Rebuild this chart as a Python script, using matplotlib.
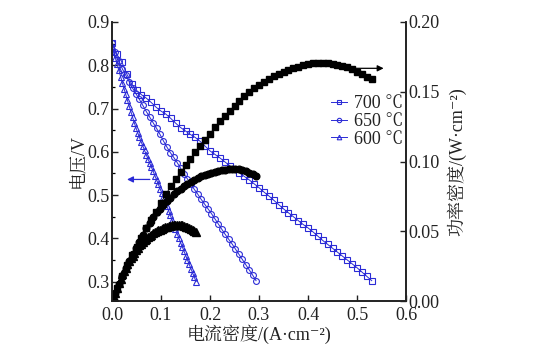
import matplotlib
matplotlib.use("Agg")
import matplotlib.pyplot as plt
from matplotlib.ticker import MultipleLocator

plt.rcParams['font.family'] = ['Liberation Serif', 'Noto Serif CJK SC', 'DejaVu Sans']
plt.rcParams['font.size'] = 12

# ---------------- data ----------------
i700 = [0.00, 0.01, 0.02, 0.03, 0.04, 0.05, 0.06, 0.07, 0.08, 0.09,
        0.10, 0.11, 0.12, 0.13, 0.14, 0.15, 0.16, 0.17, 0.18, 0.19,
        0.20, 0.21, 0.22, 0.23, 0.24, 0.25, 0.26, 0.27, 0.28, 0.29,
        0.30, 0.31, 0.32, 0.33, 0.34, 0.35, 0.36, 0.37, 0.38, 0.39,
        0.40, 0.41, 0.42, 0.43, 0.44, 0.45, 0.46, 0.47, 0.48, 0.49,
        0.50, 0.51, 0.52, 0.53]
v700 = [0.852, 0.825, 0.808, 0.780, 0.757, 0.742, 0.732, 0.724, 0.714, 0.703,
        0.694, 0.687, 0.677, 0.666, 0.656, 0.648, 0.640, 0.633, 0.624, 0.613,
        0.602, 0.594, 0.586, 0.577, 0.568, 0.560, 0.551, 0.543, 0.535, 0.526,
        0.517, 0.507, 0.498, 0.488, 0.478, 0.468, 0.459, 0.450, 0.441, 0.432,
        0.424, 0.415, 0.405, 0.395, 0.386, 0.377, 0.368, 0.359, 0.350, 0.341,
        0.332, 0.322, 0.312, 0.302]
p700 = [0.001, 0.009, 0.018, 0.026, 0.033, 0.039, 0.045, 0.052, 0.058, 0.064,
        0.0705, 0.0765, 0.0822, 0.0873, 0.0922, 0.0972, 0.1020, 0.1065, 0.1110, 0.1155,
        0.1200, 0.1245, 0.1287, 0.1327, 0.1363, 0.1400, 0.1433, 0.1466, 0.1498, 0.1525,
        0.1551, 0.1572, 0.1594, 0.1612, 0.1628, 0.1642, 0.1656, 0.1668, 0.1680, 0.1690,
        0.1698, 0.1703, 0.1705, 0.1706, 0.1703, 0.1698, 0.1690, 0.1683, 0.1674, 0.1660,
        0.1645, 0.1628, 0.1608, 0.1590]

i650 = [0.000, 0.007, 0.014, 0.021, 0.028, 0.035, 0.042, 0.049, 0.056, 0.063,
        0.070, 0.077, 0.084, 0.091, 0.098, 0.105, 0.112, 0.119, 0.126, 0.133,
        0.140, 0.147, 0.154, 0.161, 0.168, 0.175, 0.182, 0.189, 0.196, 0.203,
        0.210, 0.217, 0.224, 0.231, 0.238, 0.245, 0.252, 0.259, 0.266, 0.273,
        0.280, 0.287, 0.294]
v650 = [0.852, 0.830, 0.810, 0.792, 0.777, 0.762, 0.747, 0.734, 0.721, 0.707,
        0.693, 0.680, 0.667, 0.654, 0.640, 0.625, 0.611, 0.598, 0.587, 0.575,
        0.562, 0.549, 0.537, 0.525, 0.513, 0.502, 0.490, 0.479, 0.468, 0.457,
        0.445, 0.433, 0.421, 0.409, 0.398, 0.387, 0.375, 0.363, 0.351, 0.339,
        0.327, 0.315, 0.302]
p650 = [0.001, 0.006, 0.012, 0.018, 0.024, 0.029, 0.034, 0.038, 0.042, 0.047,
        0.052, 0.056, 0.060, 0.0635, 0.0663, 0.0690, 0.0715, 0.0740, 0.0765, 0.0785,
        0.0805, 0.0823, 0.0840, 0.0855, 0.0870, 0.0882, 0.0893, 0.0903, 0.0912, 0.0920,
        0.0927, 0.0933, 0.0938, 0.0942, 0.0945, 0.0947, 0.0946, 0.0943, 0.0938, 0.0930,
        0.0920, 0.0908, 0.0893]

i600 = [0.0000, 0.0035, 0.0070, 0.0105, 0.0140, 0.0175, 0.0210, 0.0245, 0.0280, 0.0315,
        0.0350, 0.0385, 0.0420, 0.0455, 0.0490, 0.0525, 0.0560, 0.0595, 0.0630, 0.0665,
        0.0700, 0.0735, 0.0770, 0.0805, 0.0840, 0.0875, 0.0910, 0.0945, 0.0980, 0.1015,
        0.1050, 0.1085, 0.1120, 0.1155, 0.1190, 0.1225, 0.1260, 0.1295, 0.1330, 0.1365,
        0.1400, 0.1435, 0.1470, 0.1505, 0.1540, 0.1575, 0.1610, 0.1645, 0.1680, 0.1715]
v600 = [0.845, 0.830, 0.816, 0.802, 0.788, 0.774, 0.760, 0.746, 0.733, 0.719,
        0.706, 0.693, 0.680, 0.667, 0.655, 0.644, 0.633, 0.623, 0.613, 0.603,
        0.593, 0.583, 0.574, 0.564, 0.555, 0.545, 0.535, 0.525, 0.515, 0.505,
        0.495, 0.485, 0.474, 0.464, 0.453, 0.443, 0.432, 0.421, 0.411, 0.400,
        0.390, 0.380, 0.370, 0.360, 0.350, 0.340, 0.330, 0.320, 0.310, 0.300]
p600 = [0.001, 0.003, 0.006, 0.0095, 0.013, 0.016, 0.019, 0.0215, 0.024, 0.0262,
        0.0285, 0.0305, 0.0325, 0.0345, 0.0365, 0.0382, 0.0398, 0.0412, 0.0425, 0.0437,
        0.0448, 0.0458, 0.0467, 0.0476, 0.0484, 0.0492, 0.0499, 0.0506, 0.0512, 0.0518,
        0.0524, 0.0529, 0.0534, 0.0538, 0.0541, 0.0544, 0.0546, 0.0547, 0.0548, 0.0547,
        0.0545, 0.0542, 0.0538, 0.0534, 0.0530, 0.0524, 0.0518, 0.0512, 0.0505, 0.0498]

labels = ['700 ℃', '650 ℃', '600 ℃']
xticks = [0.0, 0.1, 0.2, 0.3, 0.4, 0.5, 0.6]
yticks_left = [0.3, 0.4, 0.5, 0.6, 0.7, 0.8, 0.9]
yticks_right = [0.00, 0.05, 0.10, 0.15, 0.20]

# ---------------- figure ----------------
W, H = 534, 357
fig = plt.figure(figsize=(W / 100, H / 100), dpi=100)
ax = fig.add_axes([112 / W, 1 - 301 / H, (406 - 112) / W, (301 - 22) / H])
ax2 = ax.twinx()

blue = '#2b2bd6'
ax.plot(i700, v700, '-', color=blue, lw=0.7, marker='s', ms=4.0, mfc='none', mec=blue, mew=0.8, label=labels[0])
ax.plot(i650, v650, '-', color=blue, lw=0.7, marker='o', ms=4.2, mfc='none', mec=blue, mew=0.8, label=labels[1])
ax.plot(i600, v600, '-', color=blue, lw=0.7, marker='^', ms=4.4, mfc='none', mec=blue, mew=0.8, label=labels[2])

ax2.plot(i700, p700, '-', color='black', lw=0.6, marker='s', ms=4.2)
ax2.plot(i650, p650, '-', color='black', lw=0.6, marker='o', ms=4.8)
ax2.plot(i600, p600, '-', color='black', lw=0.6, marker='^', ms=5.2)

ax.set_xlim(0.0, 0.6)
ax.set_ylim(0.255, 0.9)
ax2.set_ylim(0.0, 0.2)

ax.set_xticks(xticks)
ax.set_xticklabels([f'{t:.1f}' for t in xticks])
ax.set_yticks(yticks_left)
ax.set_yticklabels([f'{t:.1f}' for t in yticks_left])
ax.yaxis.set_minor_locator(MultipleLocator(0.05))
ax2.set_yticks(yticks_right)
ax2.set_yticklabels([f'{t:.2f}' for t in yticks_right])

for a in (ax, ax2):
    a.spines['top'].set_visible(False)
    for s in a.spines.values():
        s.set_linewidth(1.2)
        s.set_color('#222222')
ax.tick_params(axis='both', which='major', direction='in', length=4, width=1.0, pad=2, labelsize=13, colors='#222222')
ax.tick_params(axis='y', which='minor', direction='in', length=2.5, width=0.9)
ax.tick_params(axis='x', pad=4)
ax2.tick_params(axis='y', which='major', direction='in', length=4, width=1.0, pad=2, labelsize=13, colors='#222222')

ax.set_xlabel('电流密度/(A·cm⁻²)', fontsize=13, labelpad=1, color='#222222')
ax.set_ylabel('电压/V', fontsize=13, labelpad=0, color='#222222')
ax2.set_ylabel('功率密度/(W·cm⁻²)', fontsize=13, labelpad=5, color='#222222')

# arrows
ax.annotate('', xy=(0.025, 0.536), xytext=(0.083, 0.536),
            arrowprops=dict(arrowstyle='-|>', color=blue, lw=0.9, mutation_scale=9))
ax2.annotate('', xy=(0.56, 0.1668), xytext=(0.49, 0.1668),
             arrowprops=dict(arrowstyle='-|>', color='black', lw=0.9, mutation_scale=9))

leg = ax.legend(loc='upper left', bbox_to_anchor=(331 / W, 1 - 95 / H),
                bbox_transform=fig.transFigure, frameon=False, fontsize=13,
                handlelength=0.9, handletextpad=0.4, labelspacing=0.05,
                borderpad=0, borderaxespad=0, markerscale=0.75)
for t in leg.get_texts():
    t.set_color('#222222')

fig.savefig('out.png', dpi=100)
